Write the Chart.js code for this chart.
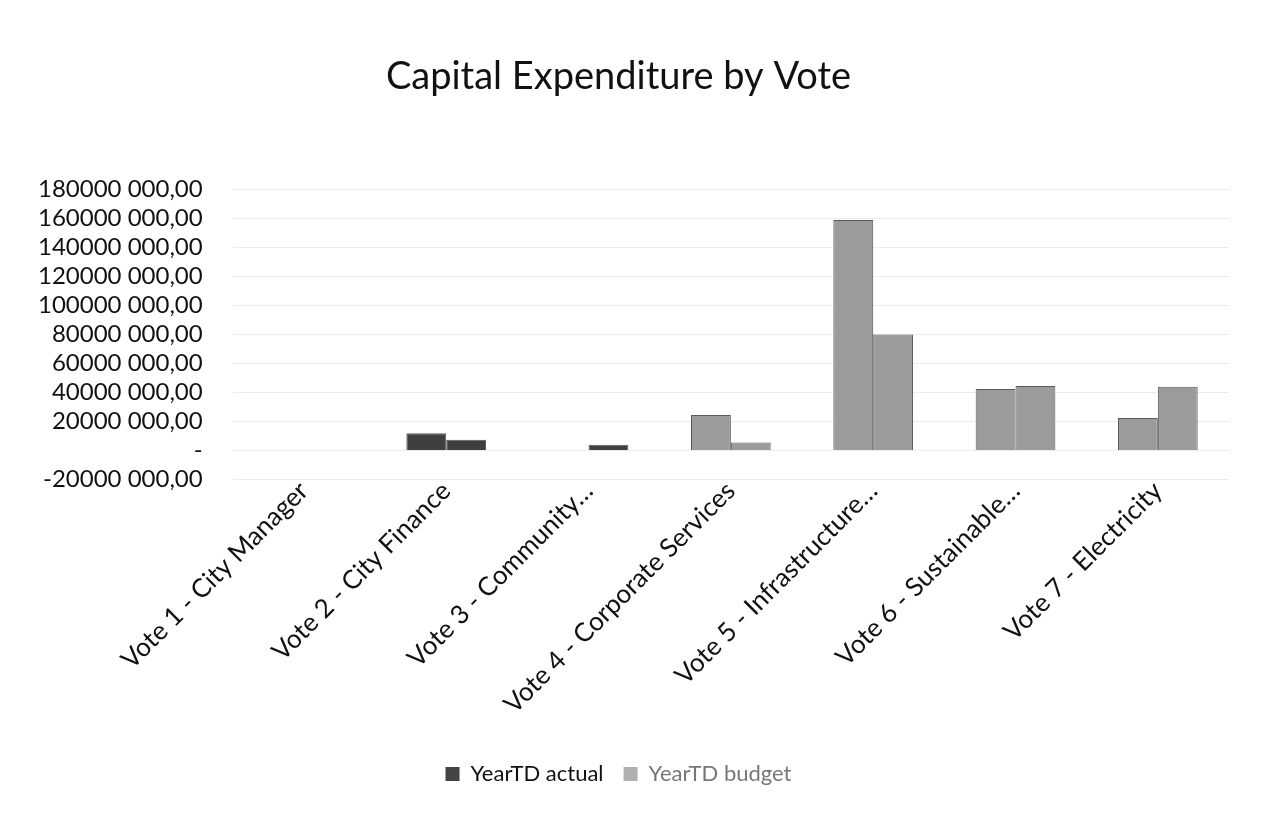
<!DOCTYPE html>
<html>
<head>
<meta charset="utf-8">
<title>Capital Expenditure by Vote</title>
<script src="https://cdn.jsdelivr.net/npm/chart.js@4"></script>
<style>
  html, body { margin: 0; padding: 0; background: #fff; }
  #wrap { width: 1265px; height: 817px; }
</style>
</head>
<body>
<div id="wrap"><canvas id="capexChart" width="1265" height="817"></canvas></div>
<script>
// Chart data
const votes = [
  'Vote 1 - City Manager',
  'Vote 2 - City Finance',
  'Vote 3 - Community…',
  'Vote 4 - Corporate Services',
  'Vote 5 - Infrastructure…',
  'Vote 6 - Sustainable…',
  'Vote 7 - Electricity'
];
const yearTdActual = [0, 12000000, 0, 24500000, 159000000, 42500000, 22500000];
const yearTdBudget = [0, 7500000, 4000000, 5500000, 80000000, 44500000, 44000000];
const yTicks = { min: -20000000, max: 180000000, step: 20000000 };

// Scan shading: the first votes print dark, the rest come out mid grey
const dark = '#3f3f3f';
const grey = '#9b9b9b';
const actualColors = [dark, dark, dark, grey, grey, grey, grey];
const budgetColors = [dark, dark, dark, grey, grey, grey, grey];

const FONT = 'Lato, "Open Sans", sans-serif';

// "180000 000,00" style, zero printed as a dash
function fmtAmount(v) {
  if (v === 0) return '-';
  const sign = v < 0 ? '-' : '';
  const a = Math.abs(Math.round(v));
  const hi = Math.floor(a / 1000);
  const lo = String(a % 1000).padStart(3, '0');
  return sign + hi + ' ' + lo + ',00';
}

new Chart(document.getElementById('capexChart'), {
  type: 'bar',
  data: {
    labels: votes,
    datasets: [
      { label: 'YearTD actual', data: yearTdActual, backgroundColor: actualColors, borderColor: '#5a5a5a', borderWidth: 1 },
      { label: 'YearTD budget', data: yearTdBudget, backgroundColor: budgetColors, borderColor: '#5a5a5a', borderWidth: 1 }
    ]
  },
  options: {
    responsive: false,
    animation: false,
    layout: { padding: { left: 8, right: 36, top: 0, bottom: 22 } },
    datasets: { bar: { categoryPercentage: 0.56, barPercentage: 1 } },
    plugins: {
      title: {
        display: true,
        text: 'Capital Expenditure by Vote',
        color: '#111',
        font: { family: FONT, size: 38, weight: 'normal' },
        padding: { top: 54, bottom: 90 }
      },
      legend: {
        position: 'bottom',
        // blank legend title only used as spacer above the items
        title: { display: true, text: ' ', font: { size: 1 }, padding: { top: 26, bottom: 0 } },
        labels: {
          font: { family: FONT, size: 22 },
          boxWidth: 14,
          boxHeight: 14,
          padding: 20,
          generateLabels: () => [
            { text: 'YearTD actual', fillStyle: '#444', strokeStyle: '#444', lineWidth: 0, fontColor: '#111', datasetIndex: 0 },
            { text: 'YearTD budget', fillStyle: '#b0b0b0', strokeStyle: '#b0b0b0', lineWidth: 0, fontColor: '#777', datasetIndex: 1 }
          ]
        }
      },
      tooltip: { enabled: false }
    },
    scales: {
      x: {
        grid: { display: false, drawTicks: false },
        border: { display: false },
        ticks: {
          color: '#111',
          font: { family: FONT, size: 26 },
          maxRotation: 45,
          minRotation: 45,
          autoSkip: false,
          padding: -4
        }
      },
      y: {
        min: yTicks.min,
        max: yTicks.max,
        grid: { color: '#ececec', lineWidth: 1, drawTicks: false },
        border: { display: false },
        ticks: {
          stepSize: yTicks.step,
          autoSkip: false,
          color: '#111',
          font: { family: FONT, size: 24 },
          padding: 30,
          callback: (v) => fmtAmount(v)
        }
      }
    }
  }
});
</script>
</body>
</html>
